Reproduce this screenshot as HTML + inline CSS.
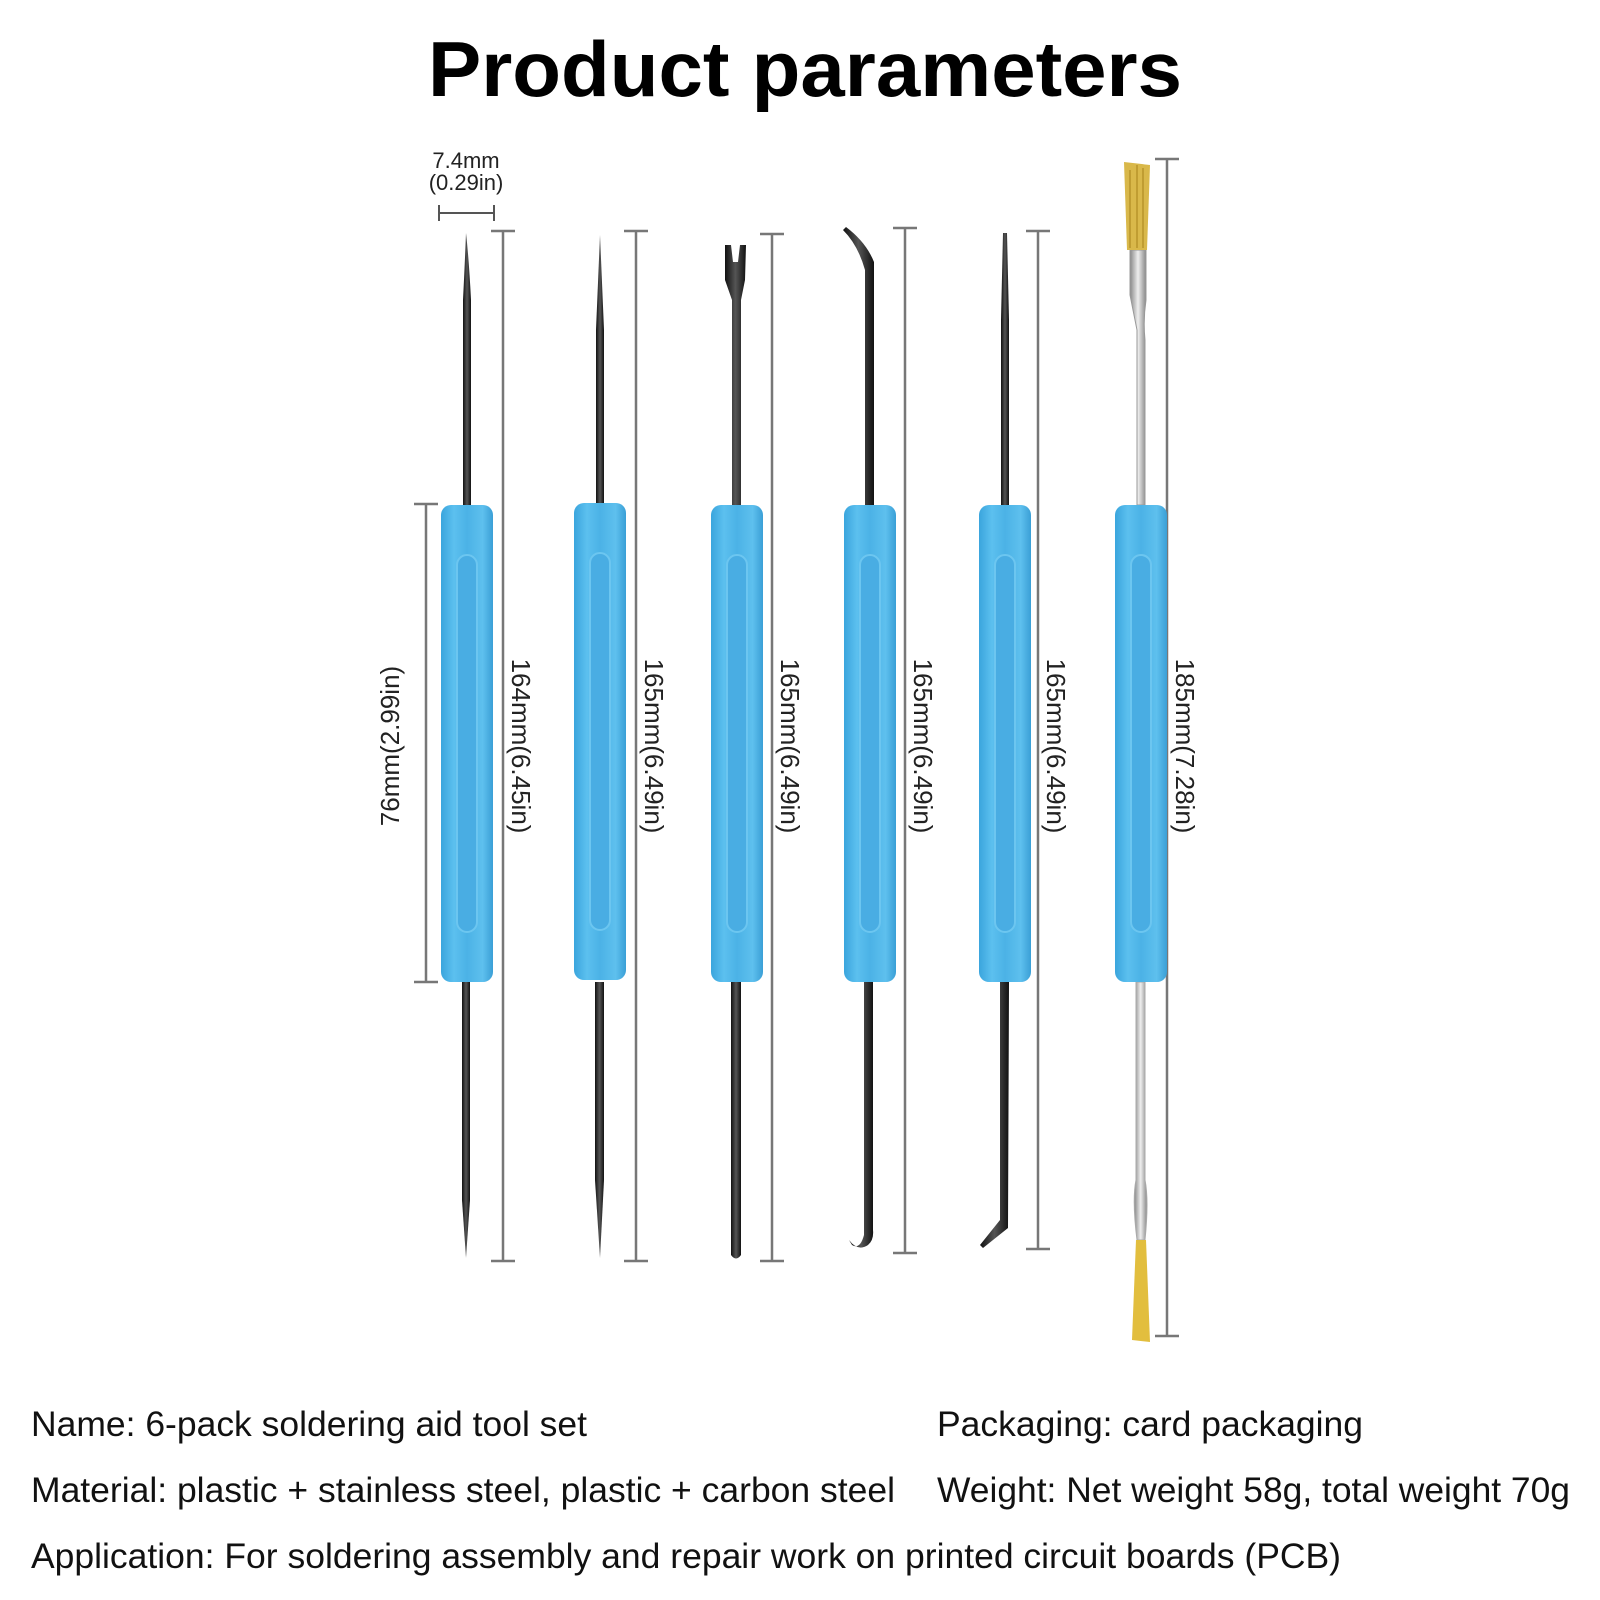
<!DOCTYPE html>
<html><head><meta charset="utf-8"><style>
html,body{margin:0;padding:0;background:#fff;}
svg{display:block}
</style></head><body>
<svg width="1600" height="1600" viewBox="0 0 1600 1600" xmlns="http://www.w3.org/2000/svg" font-family="Liberation Sans, Arial, sans-serif">
<defs>
<linearGradient id="hg" x1="0" x2="1" y1="0" y2="0">
<stop offset="0" stop-color="#3aa5dd"/><stop offset="0.25" stop-color="#5cc0ef"/><stop offset="0.5" stop-color="#4bb2e6"/><stop offset="0.8" stop-color="#5ec0ee"/><stop offset="1" stop-color="#3a9fd6"/>
</linearGradient>
<linearGradient id="sg" x1="0" x2="1"><stop offset="0" stop-color="#111"/><stop offset="0.5" stop-color="#555"/><stop offset="1" stop-color="#111"/></linearGradient>
<linearGradient id="mg" x1="0" x2="1"><stop offset="0" stop-color="#888"/><stop offset="0.5" stop-color="#eee"/><stop offset="1" stop-color="#888"/></linearGradient>
<g id="handle">
<rect x="-26" y="0" width="52" height="477" rx="10" fill="url(#hg)"/>
<rect x="-10" y="50" width="20" height="377" rx="10" fill="#49ade3" stroke="#6cc6f0" stroke-width="2"/>
</g>
</defs>
<text x="805" y="96" text-anchor="middle" font-size="78" font-weight="bold" fill="#000" textLength="754" lengthAdjust="spacingAndGlyphs">Product parameters</text>

<!-- 7.4mm -->
<text x="466" y="168" text-anchor="middle" font-size="22" fill="#222">7.4mm</text>
<text x="466" y="190" text-anchor="middle" font-size="22" fill="#222">(0.29in)</text>
<g stroke="#555" stroke-width="2"><line x1="439" y1="213" x2="494" y2="213"/><line x1="439" y1="205" x2="439" y2="221"/><line x1="494" y1="205" x2="494" y2="221"/></g>

<!-- dimension lines -->
<g stroke="#777" stroke-width="2.5" fill="none">
<path d="M503 231V1261M491 231H515M491 1261H515"/>
<path d="M636 231V1261M624 231H648M624 1261H648"/>
<path d="M772 234V1261M760 234H784M760 1261H784"/>
<path d="M905 228V1253M893 228H917M893 1253H917"/>
<path d="M1038 231V1249M1026 231H1050M1026 1249H1050"/>
<path d="M1167 159V1336M1155 159H1179M1155 1336H1179"/>
<path d="M426 504V982M414 504H438M414 982H438"/>
</g>
<g font-size="26" fill="#222">
<text transform="translate(512,746) rotate(90)" text-anchor="middle">164mm(6.45in)</text>
<text transform="translate(645,746) rotate(90)" text-anchor="middle">165mm(6.49in)</text>
<text transform="translate(781,746) rotate(90)" text-anchor="middle">165mm(6.49in)</text>
<text transform="translate(914,746) rotate(90)" text-anchor="middle">165mm(6.49in)</text>
<text transform="translate(1047,746) rotate(90)" text-anchor="middle">165mm(6.49in)</text>
<text transform="translate(1176,746) rotate(90)" text-anchor="middle">185mm(7.28in)</text>
<text transform="translate(399,746) rotate(-90)" text-anchor="middle">76mm(2.99in)</text>
</g>

<!-- shafts -->
<g fill="url(#sg)">
<path d="M463 505 L463 300 Q465 260 466 233 Q469 260 471 300 L471 505Z"/>
<path d="M462 982 L462 1200 L466 1258 L470 1200 L470 982Z"/>
<path d="M596 505 L596 330 L600 235 L604 330 L604 505Z"/>
<path d="M595 982 L595 1180 L600 1258 L604 1180 L604 982Z"/>
<path d="M732 505 L732 300 L725 280 L725 245 L731 245 L733 262 L738 262 L740 245 L746 245 L745 280 L741 300 L741 505Z"/>
<path d="M731 982 L731 1255 Q736 1262 741 1255 L741 982Z"/>
<path d="M865 505 L865 270 Q858 245 843 230 L846 227 Q866 242 874 262 L874 505Z"/>
<path d="M864 982 L864 1235 Q860 1250 852 1245 L849 1240 Q858 1252 868 1245 Q874 1240 873 1230 L873 982Z"/>
<path d="M1001 505 L1001 320 L1003 233 L1007 233 L1009 320 L1009 505Z"/>
<path d="M1000 982 L1000 1220 L980 1245 L983 1248 L1008 1228 L1009 982Z"/>
</g>
<path d="M1137 505 L1137 330 Q1133 310 1130 295 L1130 250 L1146 250 L1146 300 Q1143 320 1145 340 L1145 505Z" fill="url(#mg)" stroke="#999" stroke-width="1"/>
<path d="M1127 250 L1124 162 L1150 165 L1147 250Z" fill="#d9b84a"/>
<g stroke="#b8942a" stroke-width="1.5"><path d="M1130 170V248M1137 165V248M1143 168V248"/></g>
<path d="M1136 982 L1136 1180 Q1132 1200 1137 1240 L1145 1240 Q1149 1200 1145 1180 L1145 982Z" fill="url(#mg)" stroke="#aaa" stroke-width="1"/>
<path d="M1136 1240 L1132 1340 L1150 1342 L1146 1240Z" fill="#e2be3e"/>

<use href="#handle" x="467" y="505"/>
<use href="#handle" x="600" y="503"/>
<use href="#handle" x="737" y="505"/>
<use href="#handle" x="870" y="505"/>
<use href="#handle" x="1005" y="505"/>
<use href="#handle" x="1141" y="505"/>

<g font-size="35" fill="#111">
<text x="31" y="1436" textLength="556" lengthAdjust="spacingAndGlyphs">Name: 6-pack soldering aid tool set</text>
<text x="937" y="1436" textLength="426" lengthAdjust="spacingAndGlyphs">Packaging: card packaging</text>
<text x="31" y="1502" textLength="864" lengthAdjust="spacingAndGlyphs">Material: plastic + stainless steel, plastic + carbon steel</text>
<text x="937" y="1502" textLength="633" lengthAdjust="spacingAndGlyphs">Weight: Net weight 58g, total weight 70g</text>
<text x="31" y="1568" textLength="1310" lengthAdjust="spacingAndGlyphs">Application: For soldering assembly and repair work on printed circuit boards (PCB)</text>
</g>
</svg>
</body></html>
